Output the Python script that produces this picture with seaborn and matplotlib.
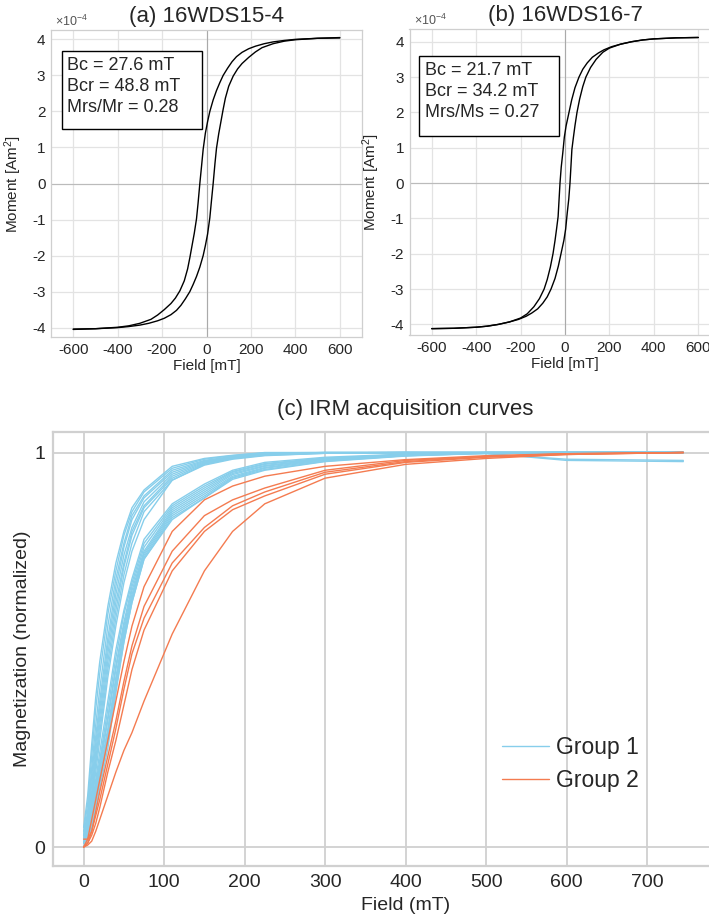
import numpy as np
import pandas as pd
import matplotlib
matplotlib.use("Agg")
import matplotlib.pyplot as plt
from matplotlib.patches import Rectangle
import seaborn as sns

# ---- hysteresis loops (moment in units of 1e-4 Am^2) ----
A_UP_FIELD = [-600, -500, -400, -350, -300, -250, -220, -190, -160, -140, -120, -100, -85, -75,
              -65, -55, -45, -38, -30, -22, -15, -5, 5, 15, 30, 45, 60, 75, 95, 115, 135,
              160, 190, 220, 260, 300, 350, 400, 500, 600]
A_UP_MOM = [-4.04, -4.03, -3.99, -3.95, -3.88, -3.77, -3.65, -3.5, -3.33, -3.18, -2.98, -2.7, -2.37, -2.06,
            -1.72, -1.38, -0.98, -0.55, 0.0, 0.5, 0.95, 1.4, 1.72, 2.0, 2.32, 2.58, 2.8, 3.0, 3.2, 3.38, 3.52,
            3.64, 3.74, 3.81, 3.88, 3.93, 3.97, 4.0, 4.03, 4.05]
A_LO_FIELD = [-600, -500, -400, -350, -300, -260, -220, -190, -160, -135, -115, -95, -75, -60,
              -45, -30, -15, -5, 5, 15, 22, 30, 38, 45, 55, 65, 75, 85, 100, 120, 140,
              160, 190, 220, 250, 300, 350, 400, 500, 600]
A_LO_MOM = [-4.05, -4.03, -4.0, -3.97, -3.93, -3.88, -3.81, -3.74, -3.64, -3.52, -3.38, -3.2, -3.0, -2.8,
            -2.58, -2.32, -2.0, -1.72, -1.4, -0.95, -0.5, 0.0, 0.55, 0.98, 1.38, 1.72, 2.06, 2.37, 2.7, 2.98, 3.18,
            3.33, 3.5, 3.65, 3.77, 3.88, 3.95, 3.99, 4.03, 4.04]

B_UP_FIELD = [-600, -500, -400, -350, -300, -250, -200, -170, -140, -115, -94, -80, -66, -54,
              -45, -38, -31, -27, -22.5, -17, -10, -3, 5, 18, 30, 45, 63, 80, 100, 123,
              150, 175, 210, 250, 300, 350, 400, 500, 600]
B_UP_MOM = [-4.12, -4.11, -4.08, -4.05, -4.0, -3.93, -3.82, -3.7, -3.5, -3.27, -3.0, -2.73, -2.38, -2.0,
            -1.63, -1.3, -0.95, -0.5, 0.0, 0.45, 0.85, 1.3, 1.62, 2.0, 2.35, 2.7, 3.0, 3.22, 3.4, 3.56,
            3.68, 3.77, 3.86, 3.93, 4.0, 4.05, 4.08, 4.11, 4.12]
B_LO_FIELD = [-600, -500, -400, -350, -300, -250, -210, -175, -150, -123, -100, -80, -63, -45,
              -30, -18, -5, 3, 10, 17, 22.5, 27, 31, 38, 45, 54, 66, 80, 94, 115,
              140, 170, 200, 250, 300, 350, 400, 500, 600]
B_LO_MOM = [-4.12, -4.11, -4.08, -4.05, -4.0, -3.93, -3.86, -3.77, -3.68, -3.56, -3.4, -3.22, -3.0, -2.7,
            -2.35, -2.0, -1.62, -1.3, -0.85, -0.45, 0.0, 0.5, 0.95, 1.3, 1.63, 2.0, 2.38, 2.73, 3.0, 3.27,
            3.5, 3.7, 3.82, 3.93, 4.0, 4.05, 4.08, 4.11, 4.12]

A_TEXT = "Bc = 27.6 mT\nBcr = 48.8 mT\nMrs/Mr = 0.28"
B_TEXT = "Bc = 21.7 mT\nBcr = 34.2 mT\nMrs/Ms = 0.27"

# ---- IRM acquisition curves (normalized) ----
IRM_FIELD = [0, 5, 10, 15, 20, 30, 40, 50, 60, 75, 110, 150, 185, 225, 300, 400, 500, 600, 745]
GROUP1 = [
    [0.05, 0.13, 0.26, 0.38, 0.47, 0.61, 0.72, 0.80, 0.86, 0.905, 0.965, 0.985, 0.993, 1.0, 1.0, 1.0, 1.0, 1.0, 1.0],
    [0.04, 0.11, 0.23, 0.35, 0.44, 0.59, 0.70, 0.79, 0.85, 0.90, 0.96, 0.983, 0.992, 0.999, 1.0, 1.0, 1.0, 1.0, 1.0],
    [0.03, 0.09, 0.20, 0.31, 0.40, 0.56, 0.68, 0.77, 0.84, 0.89, 0.955, 0.98, 0.99, 0.997, 1.0, 1.0, 0.998, 0.98, 0.977],
    [0.03, 0.08, 0.18, 0.28, 0.37, 0.53, 0.66, 0.76, 0.83, 0.885, 0.95, 0.978, 0.989, 0.996, 1.0, 1.0, 1.0, 1.0, 1.0],
    [0.02, 0.07, 0.16, 0.26, 0.35, 0.51, 0.64, 0.74, 0.81, 0.875, 0.945, 0.976, 0.988, 0.995, 0.999, 1.0, 1.0, 1.0, 1.0],
    [0.02, 0.06, 0.14, 0.24, 0.33, 0.49, 0.62, 0.72, 0.80, 0.865, 0.94, 0.974, 0.987, 0.995, 0.999, 1.0, 0.997, 0.983, 0.98],
    [0.02, 0.06, 0.13, 0.22, 0.31, 0.47, 0.60, 0.71, 0.79, 0.86, 0.935, 0.972, 0.986, 0.994, 0.999, 1.0, 1.0, 1.0, 1.0],
    [0.01, 0.05, 0.12, 0.21, 0.29, 0.45, 0.58, 0.69, 0.77, 0.85, 0.93, 0.97, 0.985, 0.993, 0.998, 1.0, 1.0, 1.0, 1.0],
    [0.01, 0.05, 0.11, 0.19, 0.27, 0.43, 0.56, 0.67, 0.75, 0.83, 0.93, 0.968, 0.983, 0.992, 0.998, 1.0, 1.0, 1.0, 1.0],
    [0.02, 0.05, 0.10, 0.17, 0.24, 0.37, 0.50, 0.60, 0.68, 0.78, 0.87, 0.92, 0.955, 0.975, 0.988, 0.996, 1.0, 1.0, 1.0],
    [0.02, 0.05, 0.10, 0.16, 0.22, 0.35, 0.48, 0.59, 0.67, 0.77, 0.865, 0.915, 0.952, 0.972, 0.986, 0.995, 1.0, 1.0, 1.0],
    [0.01, 0.04, 0.09, 0.15, 0.21, 0.33, 0.46, 0.57, 0.66, 0.76, 0.86, 0.91, 0.95, 0.97, 0.985, 0.995, 1.0, 1.0, 1.0],
    [0.01, 0.04, 0.08, 0.14, 0.20, 0.32, 0.45, 0.56, 0.65, 0.75, 0.855, 0.905, 0.947, 0.967, 0.984, 0.994, 0.999, 1.0, 1.0],
    [0.01, 0.03, 0.07, 0.13, 0.19, 0.30, 0.43, 0.55, 0.64, 0.745, 0.85, 0.90, 0.944, 0.965, 0.983, 0.994, 0.999, 1.0, 1.0],
    [0.01, 0.03, 0.07, 0.12, 0.18, 0.29, 0.42, 0.54, 0.63, 0.74, 0.845, 0.895, 0.94, 0.962, 0.982, 0.993, 0.999, 1.0, 1.0],
    [0.00, 0.03, 0.06, 0.11, 0.17, 0.28, 0.41, 0.53, 0.63, 0.735, 0.84, 0.89, 0.937, 0.96, 0.98, 0.992, 0.998, 1.0, 1.0],
    [0.00, 0.02, 0.06, 0.10, 0.16, 0.27, 0.40, 0.52, 0.62, 0.73, 0.835, 0.885, 0.935, 0.957, 0.978, 0.992, 0.998, 1.0, 1.0],
    [0.00, 0.02, 0.05, 0.10, 0.15, 0.25, 0.39, 0.52, 0.62, 0.73, 0.83, 0.885, 0.932, 0.955, 0.977, 0.991, 0.998, 1.0, 1.0],
]
GROUP2 = [
    [0.0, 0.02, 0.07, 0.12, 0.17, 0.27, 0.37, 0.47, 0.56, 0.66, 0.80, 0.88, 0.915, 0.94, 0.965, 0.982, 0.992, 0.997, 1.0],
    [0.02, 0.02, 0.04, 0.09, 0.14, 0.23, 0.32, 0.42, 0.51, 0.61, 0.75, 0.84, 0.88, 0.91, 0.955, 0.98, 0.99, 0.997, 1.0],
    [0.0, 0.01, 0.04, 0.08, 0.12, 0.21, 0.30, 0.40, 0.49, 0.58, 0.72, 0.81, 0.865, 0.90, 0.95, 0.977, 0.99, 0.996, 1.0],
    [0.0, 0.01, 0.03, 0.06, 0.10, 0.19, 0.27, 0.36, 0.45, 0.55, 0.70, 0.80, 0.855, 0.89, 0.945, 0.975, 0.988, 0.995, 1.0],
    [0.0, 0.005, 0.015, 0.04, 0.07, 0.13, 0.19, 0.245, 0.29, 0.37, 0.54, 0.70, 0.80, 0.87, 0.935, 0.97, 0.985, 0.995, 1.0],
]
GROUP_NAMES = ["Group 1", "Group 2"]
GROUP_COLORS = ["#87CEEB", "#F47B50"]


def loop_frame(up_f, up_m, lo_f, lo_m):
    up = pd.DataFrame({"field": up_f, "moment": up_m, "branch": "upper"})
    lo = pd.DataFrame({"field": lo_f, "moment": lo_m, "branch": "lower"})
    return pd.concat([up, lo], ignore_index=True)


def irm_frame():
    rows = []
    for gname, curves in zip(GROUP_NAMES, [GROUP1, GROUP2]):
        for i, c in enumerate(curves):
            for f, m in zip(IRM_FIELD, c):
                rows.append({"field": f, "mag": m, "group": gname, "curve": f"{gname}-{i}"})
    return pd.DataFrame(rows)


def plot_loop(ax, df, title, note, ylim, box, text_xy):
    sns.lineplot(data=df, x="field", y="moment", units="branch", estimator=None,
                 sort=False, color="black", lw=1.0, ax=ax, legend=False)
    ax.axvline(0, color="#aaaaaa", lw=0.8, zorder=1)
    ax.axhline(0, color="#bbbbbb", lw=0.8, zorder=1)
    ax.set_xlim(-700, 700)
    ax.set_ylim(*ylim)
    ax.set_xticks(range(-600, 601, 200))
    ax.set_yticks(range(-4, 5))
    ax.grid(True, color="#e3e3e3", lw=0.9)
    for s in ax.spines.values():
        s.set_color("#cfcfcf")
        s.set_linewidth(0.9)
    ax.tick_params(length=0, labelsize=11, colors="#262626", pad=4)
    ax.set_xlabel("Field [mT]", fontsize=11, color="#262626", labelpad=2)
    ax.set_ylabel("Moment [Am$^2$]", fontsize=11, color="#262626", labelpad=6)
    ax.set_title(title, fontsize=16, pad=6)
    ax.annotate(r"$\times10^{-4}$", xy=(0, 1), xycoords="axes fraction",
                xytext=(3, 3), textcoords="offset points", fontsize=9, color="#555555")
    x0, y0, x1, y1 = box
    ax.add_patch(Rectangle((x0, y0), x1 - x0, y1 - y0, transform=ax.transAxes,
                           fc="white", ec="black", lw=1.0, zorder=5))
    ax.text(text_xy[0], text_xy[1], note, transform=ax.transAxes, fontsize=13,
            va="top", ha="left", linespacing=1.3, zorder=6)


sns.set_theme(style="whitegrid")
plt.rcParams["font.family"] = ["Liberation Sans", "DejaVu Sans"]
plt.rcParams["axes.unicode_minus"] = False
plt.rcParams["mathtext.fontset"] = "custom"
plt.rcParams["mathtext.rm"] = "Liberation Sans"
plt.rcParams["mathtext.it"] = "Liberation Sans"

fig = plt.figure(figsize=(7.09, 9.18), dpi=100)
W, H = 709.0, 918.0

ax_a = fig.add_axes([51 / W, 1 - 337 / H, 311 / W, 307 / H])
ax_b = fig.add_axes([409.5 / W, 1 - 335 / H, 311 / W, 306 / H])
ax_c = fig.add_axes([53.4 / W, 1 - 866 / H, 704 / W, 434 / H])

plot_loop(ax_a, loop_frame(A_UP_FIELD, A_UP_MOM, A_LO_FIELD, A_LO_MOM),
          "(a) 16WDS15-4", A_TEXT, (-4.26, 4.26),
          (0.035, 0.678, 0.486, 0.932), (0.05, 0.912))
plot_loop(ax_b, loop_frame(B_UP_FIELD, B_UP_MOM, B_LO_FIELD, B_LO_MOM),
          "(b) 16WDS16-7", B_TEXT, (-4.3, 4.36),
          (0.0315, 0.650, 0.48, 0.912), (0.05, 0.893))

irm = irm_frame()
sns.lineplot(data=irm, x="field", y="mag", hue="group", units="curve", estimator=None,
             sort=False, palette=GROUP_COLORS, lw=1.0, ax=ax_c)
ax_c.set_xlim(-37.6, 837)
ax_c.set_ylim(-0.048, 1.052)
ax_c.set_xticks(range(0, 701, 100))
ax_c.set_yticks([0, 1])
ax_c.grid(True, color="#d0d0d0", lw=1.3)
for s in ax_c.spines.values():
    s.set_color("#d0d0d0")
    s.set_linewidth(1.6)
ax_c.tick_params(length=0, labelsize=14, colors="#262626", pad=6)
ax_c.set_xlabel("Field (mT)", fontsize=14, color="#262626", labelpad=4)
ax_c.set_ylabel("Magnetization (normalized)", fontsize=14, color="#262626", labelpad=2)
ax_c.set_title("(c) IRM acquisition curves", fontsize=16, color="#262626", pad=12)

handles, labels = ax_c.get_legend_handles_labels()
ax_c.legend(handles, labels, loc="center left", bbox_to_anchor=(501.7 / W, 1 - 764 / H),
            bbox_transform=fig.transFigure, frameon=False, fontsize=16.5,
            borderpad=0, borderaxespad=0, handlelength=2.05, handletextpad=0.3,
            labelspacing=0.45)

fig.savefig("out.png", dpi=100)
plt.close(fig)
